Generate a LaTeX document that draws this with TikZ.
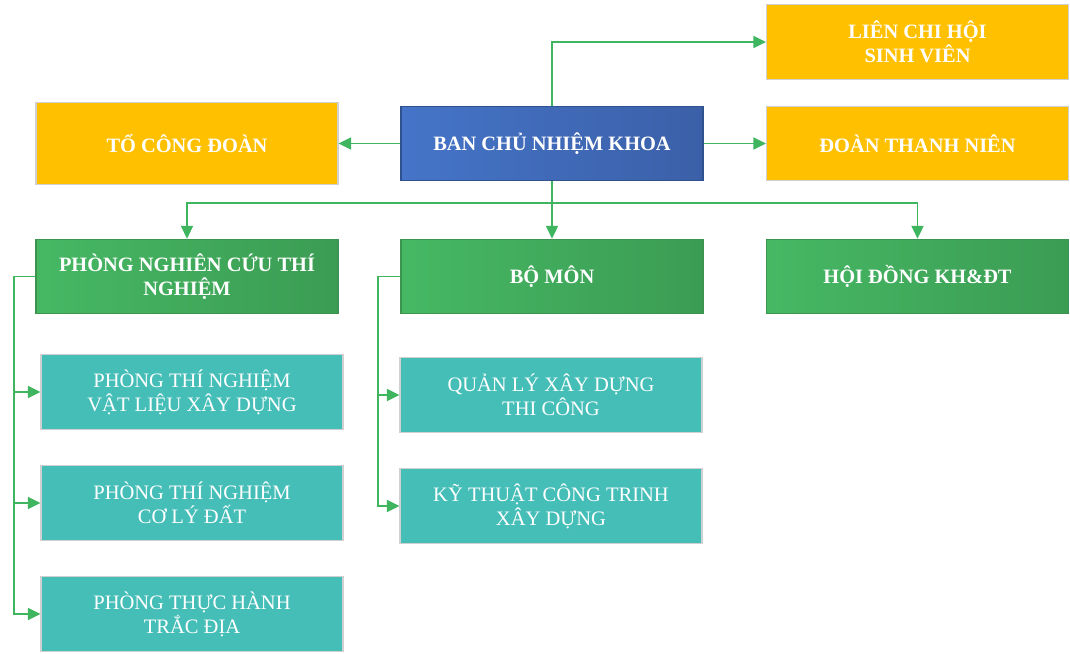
\documentclass[tikz,border=0pt]{standalone}
\usepackage{fontspec}
\setmainfont{Liberation Serif}
\usetikzlibrary{arrows.meta}
\definecolor{yel}{HTML}{FFC000}
\definecolor{blueA}{HTML}{4574C8}
\definecolor{blueB}{HTML}{3B60A8}
\definecolor{blueE}{HTML}{2F528F}
\definecolor{grnA}{HTML}{46B864}
\definecolor{grnB}{HTML}{3B9C53}
\definecolor{grnE}{HTML}{3C9450}
\definecolor{teal}{HTML}{45BEB8}
\definecolor{edgegray}{HTML}{D0D0D0}
\definecolor{conn}{HTML}{3FB55F}
\tikzset{
  box/.style={rectangle, minimum width=226.5pt, minimum height=56pt, inner sep=2pt, align=center, text=white, line width=0.8pt},
  yelbox/.style={box, fill=yel, draw=edgegray, font=\bfseries\fontsize{15.3}{18}\selectfont},
  bluebox/.style={box, left color=blueA, right color=blueB, draw=blueE, font=\bfseries\fontsize{15.3}{18}\selectfont},
  grnbox/.style={box, left color=grnA, right color=grnB, draw=grnE, font=\bfseries\fontsize{15.3}{18}\selectfont},
  tealbox/.style={box, fill=teal, draw=edgegray, font=\fontsize{15.4}{18}\selectfont},
  conn/.style={draw=conn, line width=1.3pt, -{Triangle[length=9.5pt,width=9pt]}}
}
\begin{document}
\begin{tikzpicture}[x=0.75pt,y=-0.75pt]
\useasboundingbox (0,0) rectangle (1070,653);
\node[yelbox] (lch) at (917.5,42) {LIÊN CHI HỘI\\SINH VIÊN};
\node[yelbox, minimum height=61.5pt] (tcd) at (187,143.5) {TỔ CÔNG ĐOÀN};
\node[bluebox] (bcn) at (552,143.5) {BAN CHỦ NHIỆM KHOA};
\node[yelbox] (dtn) at (917.5,143.5) {ĐOÀN THANH NIÊN};
\node[grnbox] (pnc) at (187,276.5) {PHÒNG NGHIÊN CỨU THÍ\\NGHIỆM};
\node[grnbox] (bm) at (552,276.5) {BỘ MÔN};
\node[grnbox] (hd) at (917.5,276.5) {HỘI ĐỒNG KH\&ĐT};
\node[tealbox] (p1) at (192,392) {PHÒNG THÍ NGHIỆM\\VẬT LIỆU XÂY DỰNG};
\node[tealbox] (p2) at (192,503) {PHÒNG THÍ NGHIỆM\\CƠ LÝ ĐẤT};
\node[tealbox] (p3) at (192,614) {PHÒNG THỰC HÀNH\\TRẮC ĐỊA};
\node[tealbox] (q1) at (551,395) {QUẢN LÝ XÂY DỰNG\\THI CÔNG};
\node[tealbox] (q2) at (551,506) {KỸ THUẬT CÔNG TRINH\\XÂY DỰNG};
\coordinate (j) at (552,203);
\coordinate (lp) at (14,276.5);
\coordinate (lq) at (378,276.5);
\draw[conn] (bcn.north) |- (lch.west);
\draw[conn] (bcn.west) -- (tcd.east);
\draw[conn] (bcn.east) -- (dtn.west);
\draw[conn] (bcn.south) -- (j) -| (pnc.north);
\draw[conn] (j) -- (bm.north);
\draw[conn] (j) -| (hd.north);
\draw[conn] (pnc.west) -- (lp) |- (p1.west);
\draw[conn] (lp) |- (p2.west);
\draw[conn] (lp) |- (p3.west);
\draw[conn] (bm.west) -- (lq) |- (q1.west);
\draw[conn] (lq) |- (q2.west);
\end{tikzpicture}
\end{document}
